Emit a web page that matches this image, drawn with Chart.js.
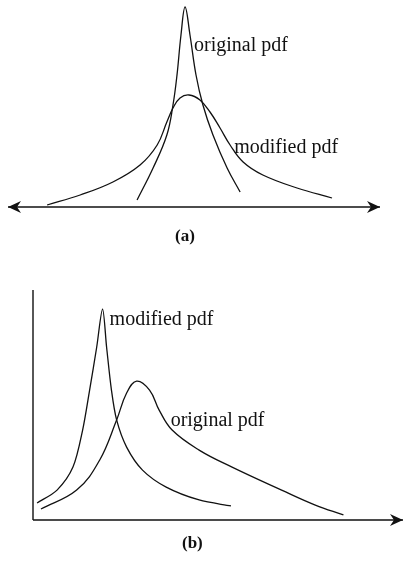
<!DOCTYPE html>
<html>
<head>
<meta charset="utf-8">
<script src="https://cdn.jsdelivr.net/npm/chart.js@4.4.1/dist/chart.umd.min.js"></script>
<style>
    html, body { margin: 0; padding: 0; background: #fff; }
    #wrap { position: relative; width: 406px; height: 564px; overflow: hidden; }
    canvas { position: absolute; left: 0; }
    .cap { position: absolute; font: bold 17px "Liberation Serif", serif; color: #111; }
</style>
</head>
<body>
<div id="wrap">
    <canvas id="chart-a" width="406" height="250" style="top:0"></canvas>
    <canvas id="chart-b" width="406" height="250" style="top:280px"></canvas>
    <div class="cap" style="left:175px; top:226px">(a)</div>
    <div class="cap" style="left:182px; top:533px">(b)</div>
</div>
<script>
(function () {
    "use strict";

    // panel (a): symmetric pdfs
    const origAX = [-1.53, -1.1, -0.73, -0.565, -0.457, -0.35, -0.24, -0.108, 0.054, 0.24, 0.51, 0.89, 1.24];
    const origAY = [0.035, 0.195, 0.36, 0.51, 0.66, 0.86, 1.0, 0.86, 0.66, 0.51, 0.36, 0.195, 0.075];
    const modAX = [-3.95, -3.06, -2.18, -1.45, -0.99, -0.73, -0.565, -0.376, -0.134, 0.16, 0.43, 0.7, 0.97, 1.32, 1.85, 2.77, 3.71];
    const modAY = [0.01, 0.06, 0.125, 0.21, 0.31, 0.425, 0.495, 0.545, 0.56, 0.535, 0.475, 0.395, 0.31, 0.225, 0.16, 0.095, 0.045];

    // panel (b): skewed pdfs
    const modBX = [0.11, 0.65, 1.08, 1.34, 1.53, 1.72, 1.88, 1.99, 2.12, 2.26, 2.53, 2.96, 3.6, 4.49, 5.35];
    const modBY = [0.074, 0.13, 0.23, 0.39, 0.565, 0.75, 0.917, 0.75, 0.565, 0.435, 0.317, 0.217, 0.143, 0.087, 0.061];
    const origBX = [0.215, 1.18, 1.8, 2.26, 2.53, 2.8, 3.15, 3.41, 3.76, 4.49, 5.38, 6.72, 7.63, 8.39];
    const origBY = [0.048, 0.13, 0.26, 0.435, 0.552, 0.604, 0.565, 0.478, 0.391, 0.304, 0.23, 0.13, 0.065, 0.022];

    // curve labels: [text, x, y]
    const labelsA = [["original pdf", 0.0, 0.805], ["modified pdf", 1.08, 0.295]];
    const labelsB = [["modified pdf", 2.07, 0.87], ["original pdf", 3.72, 0.43]];

    const INK = "#111";

    const toPoints = (xs, ys) => xs.map((x, i) => ({ x: x, y: ys[i] }));

    const curve = (xs, ys, smooth) => ({
        data: toPoints(xs, ys),
        showLine: true,
        borderColor: INK,
        borderWidth: 1.3,
        pointRadius: 0,
        tension: smooth,
        clip: false,
    });

    function arrowHead(ctx, x, y, dir) {
        ctx.beginPath();
        ctx.moveTo(x, y);
        ctx.lineTo(x - dir * 13, y - 6);
        ctx.lineTo(x - dir * 9, y);
        ctx.lineTo(x - dir * 13, y + 6);
        ctx.closePath();
        ctx.fill();
    }

    // axes with arrows plus curve labels
    const decor = {
        id: "decor",
        afterDatasetsDraw(chart, args, opts) {
            const ctx = chart.ctx;
            const xs = chart.scales.x;
            const ys = chart.scales.y;
            const y0 = ys.getPixelForValue(0);
            const left = xs.getPixelForValue(xs.min);
            const right = xs.getPixelForValue(xs.max);
            ctx.save();
            ctx.strokeStyle = INK;
            ctx.fillStyle = INK;
            ctx.lineWidth = 1.4;
            ctx.beginPath();
            ctx.moveTo(left, y0);
            ctx.lineTo(right, y0);
            if (opts.vertical) {
                ctx.moveTo(left, y0);
                ctx.lineTo(left, ys.getPixelForValue(ys.max));
            }
            ctx.stroke();
            arrowHead(ctx, right, y0, 1);
            if (opts.bothEnds) arrowHead(ctx, left, y0, -1);

            ctx.font = "20px 'Liberation Serif', serif";
            ctx.textBaseline = "middle";
            ctx.textAlign = "left";
            opts.labels.forEach(([t, x, y]) => {
                ctx.fillText(t, xs.getPixelForValue(x), ys.getPixelForValue(y));
            });
            ctx.restore();
        },
    };

    function makeChart(id, datasets, xr, yr, padding, decorOpts) {
        return new Chart(document.getElementById(id), {
            type: "scatter",
            data: { datasets: datasets },
            options: {
                responsive: false,
                animation: false,
                layout: { padding: padding },
                plugins: {
                    legend: { display: false },
                    tooltip: { enabled: false },
                    decor: decorOpts,
                },
                scales: {
                    x: { type: "linear", min: xr[0], max: xr[1], display: false },
                    y: { type: "linear", min: yr[0], max: yr[1], display: false },
                },
            },
            plugins: [decor],
        });
    }

    makeChart(
        "chart-a",
        [curve(origAX, origAY, 0.4), curve(modAX, modAY, 0.4)],
        [-5, 5], [0, 1],
        { left: 8, right: 26, top: 7, bottom: 43 },
        { labels: labelsA, bothEnds: true, vertical: false }
    );

    makeChart(
        "chart-b",
        [curve(modBX, modBY, 0.3), curve(origBX, origBY, 0.4)],
        [0, 10], [0, 1],
        { left: 33, right: 3, top: 10, bottom: 10 },
        { labels: labelsB, bothEnds: false, vertical: true }
    );
})();
</script>
</body>
</html>
